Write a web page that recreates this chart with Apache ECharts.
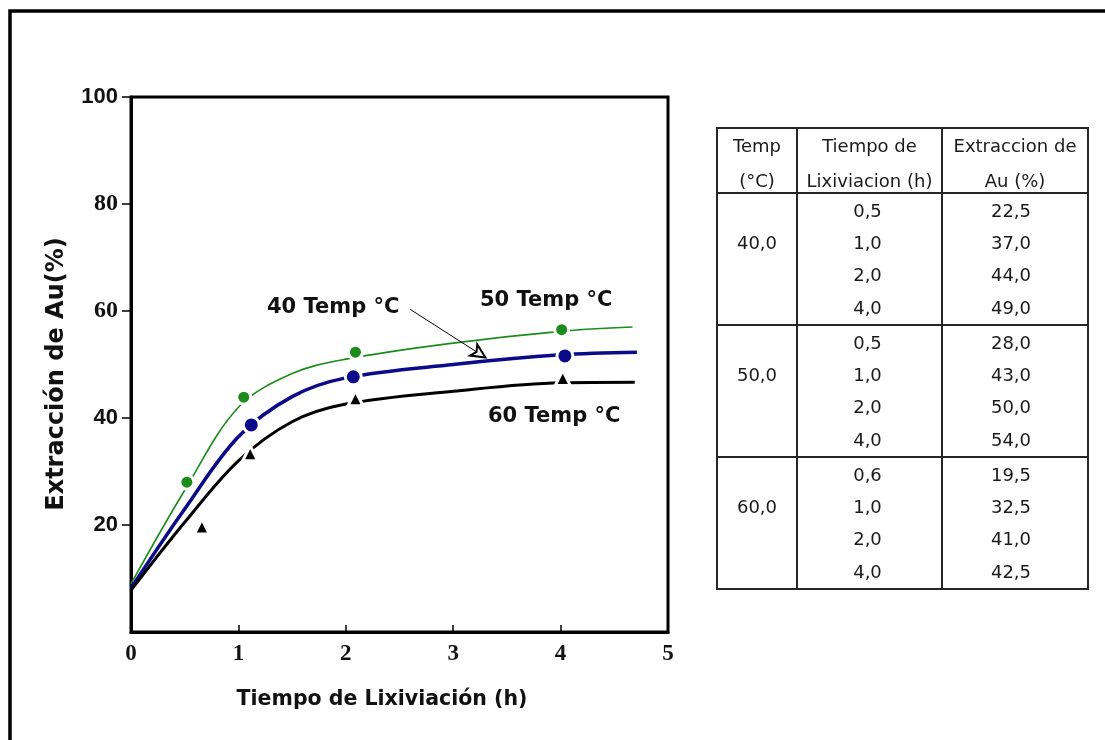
<!DOCTYPE html>
<html>
<head>
<meta charset="utf-8">
<title>Extracción de Au vs Tiempo de Lixiviación</title>
<script src="https://cdn.jsdelivr.net/npm/echarts@6/dist/echarts.min.js"></script>
<style>
  html, body { margin: 0; padding: 0; background: #fff; }
  #chart { width: 1105px; height: 740px; }
</style>
</head>
<body>
<div id="chart"></div>
<script>
// Measured points [time h, extraction %]
const points50 = [[0.52, 28.0], [1.05, 43.9], [2.09, 52.3], [4.01, 56.5]];
const points40 = [[1.12, 38.7], [2.07, 47.7], [4.04, 51.6]];
const points60 = [[0.66, 19.7], [1.11, 33.4], [2.09, 43.7], [4.02, 47.5]];

// Fitted trend curves [time h, extraction %]
const curve50 = [[0, 9.0], [0.5, 26.5], [1.0, 42.0], [1.5, 48.3], [2.0, 51.0], [3.0, 54.0], [4.0, 56.2], [4.67, 57.0]];
const curve40 = [[0, 8.2], [0.5, 23.0], [1.0, 36.5], [1.5, 44.0], [2.0, 47.5], [3.0, 50.0], [4.0, 51.8], [4.71, 52.3]];
const curve60 = [[0, 7.8], [0.5, 20.5], [1.0, 32.0], [1.5, 39.3], [2.0, 42.6], [3.0, 45.0], [4.0, 46.6], [4.69, 46.7]];

// Pointer from the "40 Temp °C" note to its curve
const arrow40 = [[2.6, 60.3], [3.3, 51.3]];

// Axis ticks
const yTicks = [20, 40, 60, 80, 100];

// Table contents
const tableHeader = [['Temp', '(°C)'], ['Tiempo de', 'Lixiviacion (h)'], ['Extraccion de', 'Au (%)']];
const tableTemps = ['40,0', '50,0', '60,0'];
const tableTimes = [['0,5', '1,0', '2,0', '4,0'], ['0,5', '1,0', '2,0', '4,0'], ['0,6', '1,0', '2,0', '4,0']];
const tableExtraction = [['22,5', '37,0', '44,0', '49,0'], ['28,0', '43,0', '50,0', '54,0'], ['19,5', '32,5', '41,0', '42,5']];

const GREEN = '#1b8c1b', BLUE = '#0b0b8a', BLACK = '#000';

// ---- table graphics ----
const tbl = { x0: 717, x1: 797, x2: 942, x3: 1088, y0: 128, yHead: 193, groupH: 132, rowStep: 32.3, rowOff: 19 };
const tblFont = { fontFamily: 'DejaVu Sans', fontSize: 18, fill: '#1a1a1a' };
const colCenters = [(tbl.x0 + tbl.x1) / 2, (tbl.x1 + tbl.x2) / 2, (tbl.x2 + tbl.x3) / 2];
const tableEls = [];
const yEnd = tbl.yHead + tbl.groupH * tableTemps.length;
const lineStyle = { stroke: '#262626', lineWidth: 2 };
tableEls.push({ type: 'rect', shape: { x: tbl.x0, y: tbl.y0, width: tbl.x3 - tbl.x0, height: yEnd - tbl.y0 }, style: { fill: 'none', stroke: '#262626', lineWidth: 2 } });
[tbl.x1, tbl.x2].forEach(x => tableEls.push({ type: 'line', shape: { x1: x, y1: tbl.y0, x2: x, y2: yEnd }, style: lineStyle }));
for (let g = 0; g < tableTemps.length; g++) {
  const y = tbl.yHead + g * tbl.groupH;
  tableEls.push({ type: 'line', shape: { x1: tbl.x0, y1: y, x2: tbl.x3, y2: y }, style: lineStyle });
}
tableHeader.forEach((lines, c) => {
  lines.forEach((t, i) => tableEls.push({
    type: 'text', x: colCenters[c], y: 147 + i * 35,
    style: Object.assign({ text: t, align: 'center', verticalAlign: 'middle' }, tblFont)
  }));
});
tableTemps.forEach((t, g) => {
  const top = tbl.yHead + g * tbl.groupH;
  tableEls.push({ type: 'text', x: colCenters[0], y: top + tbl.rowOff + tbl.rowStep,
    style: Object.assign({ text: t, align: 'center', verticalAlign: 'middle' }, tblFont) });
  tableTimes[g].forEach((v, r) => {
    const y = top + tbl.rowOff + r * tbl.rowStep;
    tableEls.push({ type: 'text', x: colCenters[1] - 2, y: y,
      style: Object.assign({ text: v, align: 'center', verticalAlign: 'middle' }, tblFont) });
    tableEls.push({ type: 'text', x: colCenters[2] - 4, y: y,
      style: Object.assign({ text: tableExtraction[g][r], align: 'center', verticalAlign: 'middle' }, tblFont) });
  });
});

// ---- curve annotations and axis titles ----
const noteFont = { fontFamily: 'DejaVu Sans', fontWeight: 'bold', fontSize: 21, fill: '#111' };
const notes = [
  { text: '40 Temp °C', x: 267, y: 308 },
  { text: '50 Temp °C', x: 480, y: 301 },
  { text: '60 Temp °C', x: 488, y: 417 }
].map(n => ({ type: 'text', x: n.x, y: n.y, z: 10,
  style: Object.assign({ text: n.text, align: 'left', verticalAlign: 'middle' }, noteFont) }));

const titles = [
  { type: 'text', x: 382, y: 700, style: { text: 'Tiempo de Lixiviación (h)', align: 'center', verticalAlign: 'middle',
      fontFamily: 'DejaVu Sans', fontWeight: 'bold', fontSize: 20.5, fill: '#111' } },
  { type: 'text', x: 57, y: 374, rotation: Math.PI / 2, style: { text: 'Extracción de Au(%)', align: 'center', verticalAlign: 'middle',
      fontFamily: 'DejaVu Sans', fontWeight: 'bold', fontSize: 24, fill: '#111' } }
];

// Outer frame (top and left edges)
const frame = { type: 'polyline', shape: { points: [[10, 740], [10, 11], [1105, 11]] },
  style: { fill: 'none', stroke: '#000', lineWidth: 3.5 } };

function curveSeries(name, data, color, width) {
  return { name: name, type: 'line', data: data, smooth: 0.35, showSymbol: false,
    symbol: 'none', lineStyle: { color: color, width: width }, z: 2, silent: true };
}
function pointSeries(name, data, color, symbol, size) {
  return { name: name, type: 'scatter', data: data, symbol: symbol, symbolSize: size, z: 4, silent: true,
    itemStyle: { color: color, borderColor: '#fff', borderWidth: 3, opacity: 1 } };
}

const chart = echarts.init(document.getElementById('chart'), null, { renderer: 'canvas' });
chart.setOption({
  animation: false,
  backgroundColor: '#fff',
  grid: { left: 131, top: 97, width: 537, height: 535, show: true, borderColor: '#000', borderWidth: 3 },
  xAxis: {
    type: 'value', min: 0, max: 5, interval: 1,
    axisLine: { lineStyle: { color: '#000', width: 3 } },
    axisTick: { inside: true, length: 7, lineStyle: { color: '#000', width: 1.5 } },
    axisLabel: { margin: 11, fontFamily: 'Liberation Serif', fontWeight: 'bold', fontSize: 23, color: '#111' },
    splitLine: { show: false }
  },
  yAxis: {
    type: 'value', min: 0, max: 100, interval: 20,
    axisLine: { lineStyle: { color: '#000', width: 3 } },
    axisTick: { inside: false, length: 9, customValues: yTicks, lineStyle: { color: '#000', width: 1.5 } },
    axisLabel: {
      margin: 13, color: '#111', customValues: yTicks,
      formatter: v => (v === 80 || v === 60) ? '{s|' + v + '}' : '{a|' + v + '}',
      rich: {
        a: { fontFamily: 'Liberation Sans', fontWeight: 'bold', fontSize: 22, color: '#111' },
        s: { fontFamily: 'Liberation Serif', fontWeight: 'bold', fontSize: 24, color: '#111' }
      }
    },
    splitLine: { show: false }
  },
  series: [
    curveSeries('50 Temp °C', curve50, GREEN, 1.6),
    Object.assign(curveSeries('40 Temp °C', curve40, BLUE, 3.5), {
      markLine: {
        silent: true, symbol: ['none', 'emptyArrow'], symbolSize: [10, 14], animation: false,
        label: { show: false },
        lineStyle: { color: '#000', width: 1, type: 'solid' },
        data: [[{ coord: arrow40[0] }, { coord: arrow40[1] }]]
      }
    }),
    curveSeries('60 Temp °C', curve60, BLACK, 3),
    pointSeries('50 Temp °C puntos', points50, GREEN, 'circle', 14),
    pointSeries('40 Temp °C puntos', points40, BLUE, 'circle', 16),
    pointSeries('60 Temp °C puntos', points60, BLACK, 'triangle', 15)
  ],
  graphic: [frame].concat(notes, titles, tableEls)
});
</script>
</body>
</html>
